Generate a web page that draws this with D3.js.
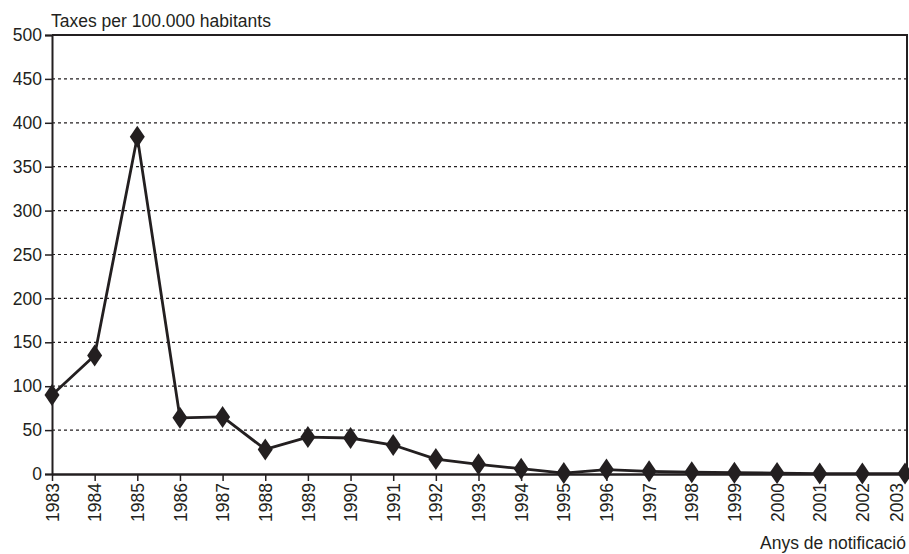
<!DOCTYPE html>
<html><head><meta charset="utf-8">
<script src="https://cdn.jsdelivr.net/npm/d3@7"></script>
<style>body{margin:0;background:#fff}svg{display:block}text{font-family:"Liberation Sans",Arial,sans-serif;fill:#231f20}</style>
</head><body>
<svg id="c" width="909" height="554"></svg>
<script>
const years = ["1983","1984","1985","1986","1987","1988","1989","1990","1991","1992","1993","1994","1995","1996","1997","1998","1999","2000","2001","2002","2003"];
const rates = [90,135,384,64,65,28,42,41,33,17,11,6,1,5,3,2,1.5,1,0.5,0.5,0.5];
const yTicks = [0,50,100,150,200,250,300,350,400,450,500];
const yTitle = "Taxes per 100.000 habitants";
const xTitle = "Anys de notificació";

const svg = d3.select("#c");
const L = 52, R = 905, T = 35, B = 474;
const x = d3.scalePoint().domain(years).range([L, R]);
const y = d3.scaleLinear().domain([0, 500]).range([B, T]);
const ink = "#231f20";
const FS = 17.5;

// grid
svg.append("g").selectAll("line").data(yTicks.filter(d => d > 0 && d < 500)).join("line")
  .attr("x1", L).attr("x2", R + 2).attr("y1", d => y(d)).attr("y2", d => y(d))
  .attr("stroke", ink).attr("stroke-width", 1.2).attr("stroke-dasharray", "3,3");

// frame top/right
svg.append("line").attr("x1", L).attr("x2", R + 3).attr("y1", T).attr("y2", T).attr("stroke", ink).attr("stroke-width", 2);
svg.append("line").attr("x1", R + 2).attr("x2", R + 2).attr("y1", T).attr("y2", B).attr("stroke", ink).attr("stroke-width", 2);

// y axis
const ya = svg.append("g").attr("transform", `translate(${L},0)`)
  .call(d3.axisLeft(y).tickValues(yTicks).tickSize(7).tickPadding(3));
ya.select(".domain").attr("stroke", ink).attr("stroke-width", 2);
ya.selectAll(".tick line").attr("stroke", ink).attr("stroke-width", 1.5);
ya.selectAll("text").attr("font-size", FS).attr("fill", ink).style("font-family", "Liberation Sans, Arial, sans-serif");

// x axis
const xa = svg.append("g").attr("transform", `translate(0,${B})`)
  .call(d3.axisBottom(x).tickSize(7).tickSizeOuter(0));
xa.select(".domain").attr("stroke", ink).attr("stroke-width", 2.5);
xa.selectAll(".tick line").attr("stroke", ink).attr("stroke-width", 1.5);
xa.selectAll("text").attr("font-size", FS).attr("fill", ink)
  .style("font-family", "Liberation Sans, Arial, sans-serif")
  .attr("transform", "rotate(-90)").attr("text-anchor", "end")
  .attr("x", -9).attr("y", 0)
  .attr("dy", d => d === years[years.length - 1] ? "-0.15em" : "0.35em");

// line
const data = years.map((yr, i) => ({yr, v: rates[i]}));
svg.append("path").datum(data)
  .attr("fill", "none").attr("stroke", ink).attr("stroke-width", 2.8).attr("stroke-linejoin", "round")
  .attr("d", d3.line().x(d => x(d.yr)).y(d => y(d.v)));

// diamonds
svg.append("g").selectAll("path").data(data).join("path")
  .attr("transform", d => `translate(${x(d.yr)},${y(d.v)})`)
  .attr("d", "M0,-11L7.5,0L0,11L-7.5,0Z").attr("fill", ink);

// titles
svg.append("text").attr("x", 51).attr("y", 27).attr("font-size", FS).text(yTitle);
svg.append("text").attr("x", 906).attr("y", 549).attr("text-anchor", "end").attr("font-size", FS).text(xTitle);
</script>
</body></html>
